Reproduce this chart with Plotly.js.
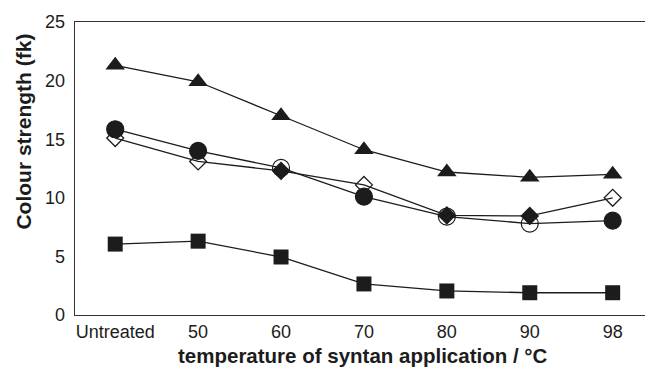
<!DOCTYPE html>
<html>
<head>
<meta charset="utf-8">
<script src="https://cdn.plot.ly/plotly-3.0.1.min.js"></script>
<style>html,body{margin:0;padding:0;background:#fff;}#chart{width:645px;height:369px;}</style>
</head>
<body>
<div id="chart"></div>
<script>
const categories = ["Untreated", "50", "60", "70", "80", "90", "98"];
const triangleValues = [21.3, 19.9, 17.0, 14.1, 12.2, 11.75, 12.0];
const circleValues = [15.85, 14.0, 12.55, 10.1, 8.4, 7.8, 8.05];
const diamondValues = [15.1, 13.1, 12.3, 11.1, 8.5, 8.45, 10.0];
const squareValues = [6.05, 6.3, 4.95, 2.65, 2.05, 1.9, 1.9];
const circleFilled = [true, true, false, true, false, false, true];
const diamondFilled = [false, false, true, false, true, true, false];
const xTitle = 'temperature of syntan application / °C';
const yTitle = 'Colour strength (fk)';

const ink = '#1c1c1c';
const lineStyle = {color: ink, width: 1.3};

const traces = [
  {x: categories, y: triangleValues, mode: 'lines+markers', line: lineStyle,
   marker: {symbol: 'triangle-up', size: 17, color: ink}},
  {x: categories, y: squareValues, mode: 'lines+markers', line: lineStyle,
   marker: {symbol: 'square', size: 15, color: ink}},
  {x: categories, y: diamondValues, mode: 'lines+markers', line: lineStyle,
   marker: {symbol: diamondFilled.map(f => f ? 'diamond' : 'diamond-open'), size: 13, color: ink, line: {color: ink, width: 1.3}}},
  {x: categories, y: circleValues, mode: 'lines+markers', line: lineStyle,
   marker: {symbol: circleFilled.map(f => f ? 'circle' : 'circle-open'), size: 17, color: ink, line: {color: ink, width: 1.2}}}
];

const layout = {
  width: 645, height: 369,
  margin: {l: 75, r: 0, t: 22, b: 54},
  paper_bgcolor: '#fff', plot_bgcolor: '#fff',
  showlegend: false,
  font: {family: 'Liberation Sans, Arial, sans-serif', color: ink},
  xaxis: {
    type: 'category', range: [-0.485, 6.39],
    showline: true, linecolor: '#333', linewidth: 1.3, mirror: true,
    showgrid: false, zeroline: false, ticks: '',
    tickfont: {size: 18, color: ink}
  },
  yaxis: {
    range: [0, 25], dtick: 5,
    showline: true, linecolor: '#333', linewidth: 1.3,
    showgrid: false, zeroline: false, ticks: '',
    ticklabelstandoff: 5,
    tickfont: {size: 18, color: ink}
  },
  annotations: [
    {text: '<b>' + xTitle + '</b>', xref: 'paper', yref: 'paper', x: 0.505, y: -0.1835,
     xanchor: 'center', yanchor: 'bottom', showarrow: false, font: {size: 20.5, color: ink}},
    {text: '<b>' + yTitle + '</b>', xref: 'paper', yref: 'paper', x: -0.0895, y: 0.626,
     xanchor: 'center', yanchor: 'middle', textangle: -90, showarrow: false, font: {size: 21, color: ink}}
  ]
};

Plotly.newPlot('chart', traces, layout, {displayModeBar: false, staticPlot: true});
</script>
</body>
</html>
